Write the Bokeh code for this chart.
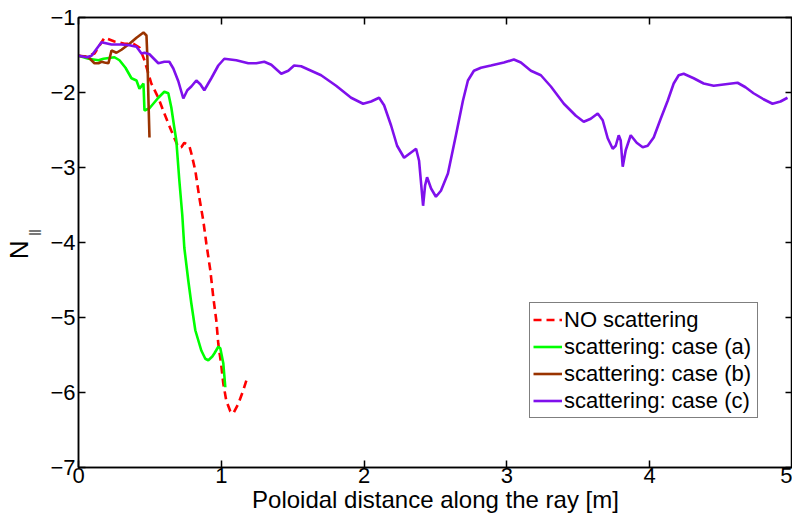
from bokeh.plotting import figure
from bokeh.models import (Range1d, FixedTicker, LinearAxis, Legend, LegendItem)
from bokeh.embed import file_html
from bokeh.resources import INLINE

# --- data ---
x_no = [0.0, 0.056, 0.112, 0.182, 0.252, 0.322, 0.385, 0.427, 0.462, 0.510, 0.559, 0.601,
        0.650, 0.699, 0.720, 0.741, 0.776, 0.790, 0.818, 0.846, 0.874, 0.895, 0.923, 0.944,
        0.965, 0.979, 1.000, 1.014, 1.035, 1.063, 1.084, 1.119, 1.154, 1.182]
y_no = [-1.51, -1.52, -1.48, -1.27, -1.32, -1.35, -1.35, -1.40, -1.57, -1.88, -2.07, -2.28,
        -2.51, -2.73, -2.73, -2.67, -2.71, -2.81, -3.04, -3.40, -3.71, -4.01, -4.37, -4.73,
        -5.04, -5.35, -5.64, -5.88, -6.11, -6.25, -6.28, -6.15, -5.97, -5.80]

x_a = [0.0, 0.070, 0.140, 0.175, 0.252, 0.287, 0.329, 0.371, 0.406, 0.427, 0.455, 0.462,
       0.497, 0.559, 0.601, 0.629, 0.650, 0.671, 0.685, 0.706, 0.727, 0.741, 0.769, 0.790,
       0.818, 0.860, 0.888, 0.909, 0.937, 0.951, 0.979, 0.993, 1.014, 1.028]
y_a = [-1.51, -1.55, -1.57, -1.55, -1.53, -1.57, -1.67, -1.81, -1.84, -1.95, -1.88, -2.24,
       -2.21, -2.07, -1.99, -2.01, -2.20, -2.47, -2.64, -3.17, -3.64, -4.07, -4.51, -4.81,
       -5.17, -5.44, -5.55, -5.57, -5.52, -5.48, -5.39, -5.41, -5.61, -5.93]

x_b = [0.0, 0.070, 0.112, 0.140, 0.161, 0.182, 0.210, 0.231, 0.266, 0.301, 0.357, 0.406,
       0.455, 0.476, 0.483, 0.490, 0.497]
y_b = [-1.51, -1.53, -1.61, -1.61, -1.59, -1.60, -1.61, -1.44, -1.47, -1.43, -1.35, -1.27,
       -1.20, -1.24, -1.57, -2.11, -2.60]

x_c = [0.0, 0.056, 0.091, 0.161, 0.231, 0.301, 0.357, 0.406, 0.441, 0.462, 0.497, 0.559,
       0.601, 0.636, 0.664, 0.699, 0.734, 0.762, 0.790, 0.825, 0.853, 0.881, 0.930, 0.979,
       1.021, 1.105, 1.189, 1.245, 1.301, 1.350, 1.420, 1.469, 1.510, 1.559, 1.699, 1.804,
       1.909, 1.993, 2.049, 2.105, 2.140, 2.189, 2.231, 2.280, 2.329, 2.364, 2.385, 2.413,
       2.427, 2.441, 2.469, 2.503, 2.538, 2.587, 2.643, 2.692, 2.727, 2.769, 2.818, 2.888,
       2.979, 3.049, 3.098, 3.168, 3.238, 3.308, 3.399, 3.483, 3.538, 3.587, 3.636, 3.671,
       3.706, 3.741, 3.762, 3.783, 3.797, 3.811, 3.832, 3.867, 3.909, 3.951, 3.986, 4.028,
       4.077, 4.126, 4.168, 4.203, 4.238, 4.308, 4.378, 4.448, 4.531, 4.615, 4.671, 4.727,
       4.797, 4.860, 4.916, 4.965]
y_c = [-1.51, -1.53, -1.51, -1.33, -1.36, -1.36, -1.37, -1.39, -1.48, -1.47, -1.49, -1.61,
       -1.59, -1.59, -1.68, -1.85, -2.08, -1.97, -1.92, -1.84, -1.89, -1.97, -1.81, -1.64,
       -1.55, -1.57, -1.61, -1.61, -1.59, -1.63, -1.75, -1.71, -1.64, -1.65, -1.77, -1.91,
       -2.07, -2.15, -2.12, -2.07, -2.17, -2.44, -2.71, -2.87, -2.80, -2.75, -2.91, -3.51,
       -3.24, -3.13, -3.28, -3.39, -3.31, -3.08, -2.57, -2.11, -1.84, -1.71, -1.67, -1.64,
       -1.60, -1.56, -1.60, -1.71, -1.77, -1.92, -2.15, -2.31, -2.39, -2.35, -2.28, -2.37,
       -2.61, -2.75, -2.71, -2.57, -2.64, -2.99, -2.77, -2.57, -2.67, -2.73, -2.71, -2.60,
       -2.35, -2.11, -1.88, -1.77, -1.75, -1.81, -1.88, -1.91, -1.89, -1.87, -1.93, -2.01,
       -2.09, -2.15, -2.12, -2.07]

x_ticks = [0, 1, 2, 3, 4, 5]
y_ticks = [-7, -6, -5, -4, -3, -2, -1]
series_labels = ["NO scattering", "scattering: case (a)", "scattering: case (b)", "scattering: case (c)"]
x_label = "Poloidal distance along the ray [m]"
y_label = "N"
y_label_sub = "||"

FONT = "Liberation Sans"
NBSP = "\u00a0"

p = figure(width=792, height=519, output_backend="svg", toolbar_location=None,
           x_range=Range1d(0, 5), y_range=Range1d(-7, -1),
           min_border_left=77, min_border_right=0, min_border_top=17, min_border_bottom=52,
           x_axis_label=x_label)
p.grid.visible = False
p.outline_line_color = "black"
p.outline_line_width = 1.5
p.background_fill_color = "white"
p.border_fill_color = "white"

def style_axis(ax, ticks, show_labels):
    ax.ticker = FixedTicker(ticks=ticks)
    ax.minor_tick_line_color = None
    ax.major_tick_in = 7
    ax.major_tick_out = 0
    ax.major_tick_line_color = "black"
    ax.major_tick_line_width = 1.5
    ax.axis_line_color = "black"
    ax.axis_line_width = 1.5
    ax.major_label_text_font = FONT
    ax.major_label_text_font_size = "22px"
    ax.major_label_text_color = "black"
    ax.major_label_overrides = {t: str(t).replace("-", "\u2212") for t in ticks}
    if not show_labels:
        ax.major_label_text_font_size = "0px"
        ax.major_label_text_color = None
        ax.major_label_standoff = 0

xa = p.xaxis[0]
style_axis(xa, x_ticks, True)
xa.major_label_standoff = 0
xa.axis_label_standoff = 0
xa.axis_label_text_font = FONT
xa.axis_label_text_font_size = "24px"
xa.axis_label_text_font_style = "normal"
xa.axis_label_text_color = "black"

ya = p.yaxis[0]
style_axis(ya, y_ticks, True)
ya.major_label_standoff = 3

top = LinearAxis()
style_axis(top, x_ticks, False)
p.add_layout(top, "above")
right = LinearAxis()
style_axis(right, y_ticks, False)
p.add_layout(right, "right")

# y-axis label "N" with the "||" subscript, carried by two tick-less axes
def label_axis(text, size, standoff):
    ax = LinearAxis(ticker=FixedTicker(ticks=[]), axis_label=text)
    ax.axis_line_color = None
    ax.major_tick_line_color = None
    ax.minor_tick_line_color = None
    ax.major_tick_in = 0
    ax.major_tick_out = 0
    ax.major_label_text_font_size = "0px"
    ax.major_label_standoff = 0
    ax.axis_label_standoff = standoff
    ax.axis_label_text_font = FONT
    ax.axis_label_text_font_size = size
    ax.axis_label_text_font_style = "normal"
    ax.axis_label_text_color = "black"
    return ax

# non-breaking spaces only shift the centred labels along the axis
p.add_layout(label_axis(NBSP * 6 + y_label_sub, "12px", 7), "left")
p.add_layout(label_axis(y_label + NBSP * 2, "26px", -10), "left")

r_no = p.line(x_no, y_no, line_color="#ff0000", line_width=2.6, line_dash="8 5")
r_a = p.line(x_a, y_a, line_color="#00ff00", line_width=2.6)
r_b = p.line(x_b, y_b, line_color="#993300", line_width=2.6)
r_c = p.line(x_c, y_c, line_color="#7f10ec", line_width=2.6)

legend = Legend(items=[LegendItem(label=series_labels[0], renderers=[r_no]),
                       LegendItem(label=series_labels[1], renderers=[r_a]),
                       LegendItem(label=series_labels[2], renderers=[r_b]),
                       LegendItem(label=series_labels[3], renderers=[r_c])],
                location=(451, 49), padding=3, spacing=0, margin=0,
                glyph_width=29, glyph_height=27, label_height=27, label_width=190,
                label_standoff=2, label_text_font=FONT, label_text_font_size="22px",
                label_text_color="black", border_line_color="black", border_line_width=1.2,
                background_fill_color="white", background_fill_alpha=1.0)
p.add_layout(legend)

open("out.html", "w").write(file_html(p, INLINE))
